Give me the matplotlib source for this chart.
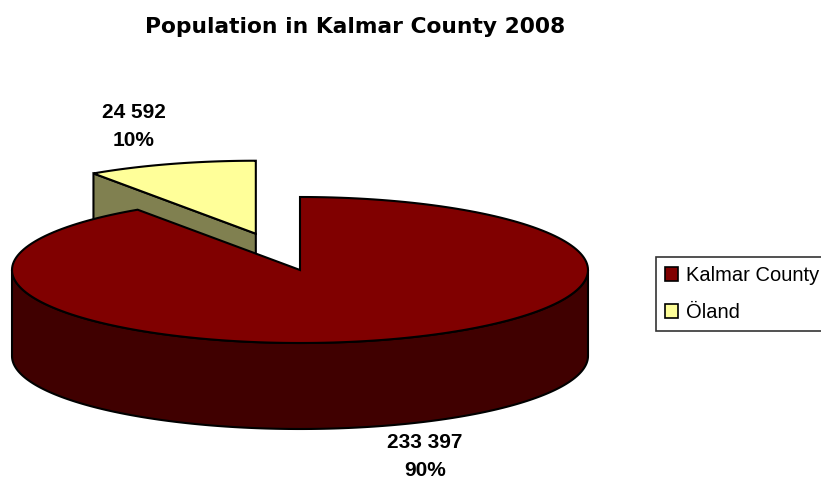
import numpy as np
import matplotlib
matplotlib.use("Agg")
import matplotlib.pyplot as plt
from matplotlib.patches import Polygon, Patch

plt.rcParams["font.family"] = ["Liberation Sans", "DejaVu Sans"]

# Data
categories = ["Kalmar County", "Öland"]
values = [233397, 24592]
colors_top = ["#800000", "#FFFF99"]
colors_side = ["#400000", "#808050"]
title = "Population in Kalmar County 2008"

# Pie geometry (pixel space)
W, H = 821, 480
cx, cy = 300.0, 270.0     # centre of top face
rx, ry = 288.0, 73.0      # ellipse radii
depth = 86.0              # thickness of the pie
explode = [0.0, 0.52]     # radial offset as fraction of radius
lw = 1.5

fig = plt.figure(figsize=(W / 100, H / 100), dpi=100)
ax = fig.add_axes([0, 0, 1, 1])
ax.set_xlim(0, W)
ax.set_ylim(H, 0)
ax.axis("off")

total = float(sum(values))
fracs = [v / total for v in values]

# Slices run clockwise from 12 o'clock (angles in degrees, CCW from east)
starts, ends = [], []
ang = 90.0
for f in fracs:
    starts.append(ang - 360 * f)
    ends.append(ang)
    ang -= 360 * f


def pt(t, ox, oy, dz=0.0):
    r = np.radians(t)
    return ox + rx * np.cos(r), oy - ry * np.sin(r) + dz


def arc(t0, t1, ox, oy, dz=0.0, n=200):
    ts = np.linspace(t0, t1, n)
    r = np.radians(ts)
    return np.column_stack([ox + rx * np.cos(r), oy - ry * np.sin(r) + dz])


def slice_origin(i):
    mid = np.radians((starts[i] + ends[i]) / 2)
    e = explode[i]
    return cx + e * rx * np.cos(mid), cy - e * ry * np.sin(mid)


edge = dict(edgecolor="black", linewidth=lw, joinstyle="miter")

# Öland (back slice): visible radial side then top
ox, oy = slice_origin(1)
s, e = starts[1] + 360, ends[1] + 360   # 90 .. 124.3 deg
p_left = pt(e, ox, oy)
side = [(ox, oy), p_left, (p_left[0], p_left[1] + depth), (ox, oy + depth)]
ax.add_patch(Polygon(side, closed=True, facecolor=colors_side[1], **edge))
top = np.vstack([[ox, oy], arc(s, e, ox, oy)])
ax.add_patch(Polygon(top, closed=True, facecolor=colors_top[1], **edge))

# Kalmar County (front slice): outer wall of the front half then top
ox, oy = slice_origin(0)
s, e = starts[0] + 360, ends[0] + 360   # 124.3 .. 450 deg (clockwise)
wall = np.vstack([arc(180, 360, ox, oy), arc(360, 180, ox, oy, depth)])
ax.add_patch(Polygon(wall, closed=True, facecolor=colors_side[0], **edge))
top = np.vstack([[ox, oy], arc(s, e, ox, oy)])
ax.add_patch(Polygon(top, closed=True, facecolor=colors_top[0], **edge))

# Data labels: value and percentage
label_pos = [(425, 448), (134, 118)]
for v, f, (lx, ly) in zip(values, fracs, label_pos):
    ax.text(lx, ly, f"{v:,}".replace(",", " "), ha="center", va="baseline",
            fontsize=15, fontweight="bold")
    ax.text(lx, ly + 28, f"{round(f * 100):.0f}%", ha="center", va="baseline",
            fontsize=15, fontweight="bold")

# Title
ax.text(355, 33, title, ha="center", va="baseline", fontsize=15.7,
        fontweight="bold", family=["DejaVu Sans"])

# Legend
handles = [Patch(facecolor=c, edgecolor="black", linewidth=1.2)
           for c in colors_top]
leg = ax.legend(handles, categories, loc="upper left",
                bbox_to_anchor=(656 / W, 1 - 257 / H),
                bbox_transform=fig.transFigure,
                fontsize=14.5, frameon=True, fancybox=False,
                borderpad=0.45, handlelength=0.65, handleheight=0.65,
                handletextpad=0.4, labelspacing=0.9, borderaxespad=0)
leg.get_frame().set_edgecolor("black")
leg.get_frame().set_linewidth(1.2)

fig.savefig("out.png", dpi=100)
